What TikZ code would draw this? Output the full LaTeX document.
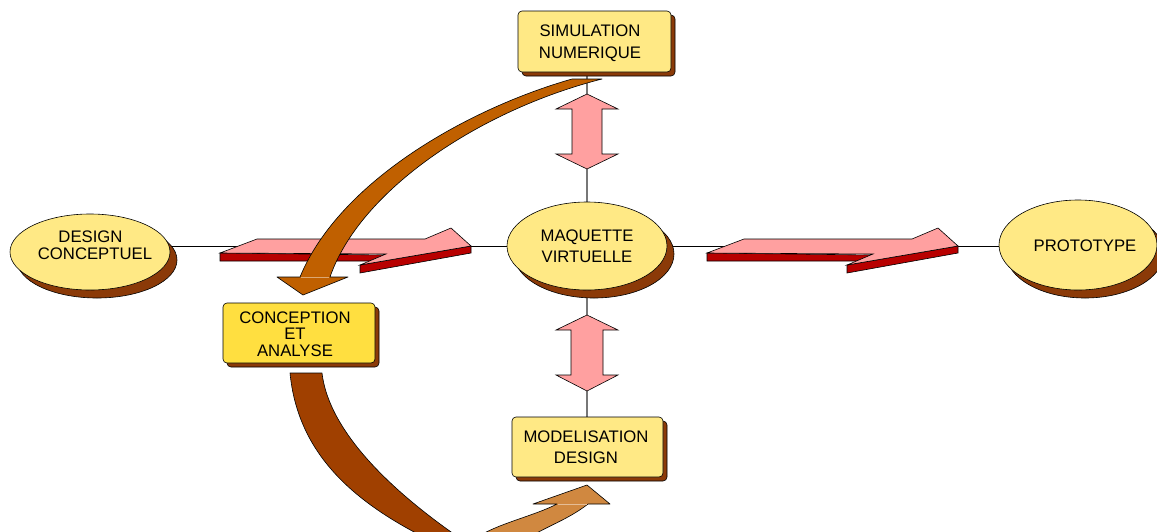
\documentclass[tikz,border=0pt]{standalone}
\usepackage{fontspec}
\setmainfont{Liberation Sans}
\usetikzlibrary{shapes.geometric,shadows,calc}
\pgfdeclarelayer{bg}
\pgfsetlayers{bg,main}
\definecolor{yel}{HTML}{FFE985}
\definecolor{yeltwo}{HTML}{FFDF40}
\definecolor{shb}{HTML}{8B3A08}
\definecolor{pinkarr}{HTML}{FFA0A0}
\definecolor{redarr}{HTML}{B80000}
\definecolor{brownA}{HTML}{C06000}
\definecolor{brownB}{HTML}{A04000}
\definecolor{brownC}{HTML}{D08840}
\definecolor{vgrey}{HTML}{777777}
\newcommand\flatarr[1]{%
  \begin{scope}[xshift=#1]
    \filldraw[redpart] (220,253) -- (386,255) -- (370,261) -- (220,261) -- cycle;
    \filldraw[redpart] (360,265) -- (471,246) -- (471,253) -- (360,273) -- cycle;
    \filldraw[pinkpart] (220,253) -- (257,239) -- (425,239) -- (451,228) -- (471,246) -- (360,265) -- (386,254) -- cycle;
  \end{scope}}
\begin{document}
\begin{tikzpicture}[x=1pt,y=-1pt,
  ovalshad/.style={drop shadow={shadow xshift=7pt,shadow yshift=-8pt,fill=shb,draw=black,line width=0.6pt,opacity=1}},
  boxshad/.style={drop shadow={shadow xshift=4pt,shadow yshift=-4pt,fill=shb,draw=black,line width=0.6pt,opacity=1}},
  oval/.style={ellipse, draw=black, line width=0.6pt, fill=yel, inner sep=0pt, ovalshad},
  boxn/.style={rectangle, rounded corners=4pt, draw=black, line width=0.6pt, fill=yel, inner sep=0pt, boxshad},
  txt/.style={align=center, inner sep=0pt, text=black, font=\fontsize{16.7}{21}\selectfont},
  hline/.style={draw=black, line width=0.8pt},
  vline/.style={draw=vgrey, line width=1.3pt},
  dbl/.style={fill=pinkarr, draw=black, line width=0.6pt},
  redpart/.style={fill=redarr, draw=black, line width=0.6pt},
  pinkpart/.style={fill=pinkarr, draw=black, line width=0.6pt},
  curved/.style={draw=black, line width=0.6pt, line join=round}]
\useasboundingbox (0,0) rectangle (1157,531);
\clip (0,0) rectangle (1157,531);

% nodes
\node[oval, minimum width=160pt, minimum height=76pt] (design) at (90,252) {};
\node[txt, font=\fontsize{16.7}{17}\selectfont] (designt) at (95,245) {DESIGN\hspace*{9pt}\\CONCEPTUEL};
\node[oval, minimum width=160pt, minimum height=88pt] (maquette) at (587,246) {};
\node[txt] (maquettet) at (587,246) {MAQUETTE\\VIRTUELLE};
\node[oval, minimum width=158pt, minimum height=90pt] (prototype) at (1078,245) {};
\node[txt] (prototypet) at (1085,246) {PROTOTYPE};
\node[boxn, minimum width=153pt, minimum height=61pt] (simulation) at (594.5,41.5) {};
\node[txt, font=\fontsize{16.7}{22}\selectfont] (simulationt) at (590,43) {SIMULATION\\NUMERIQUE};
\node[boxn, fill=yeltwo, minimum width=152pt, minimum height=60pt] (conception) at (299,333) {};
\node[txt, font=\fontsize{16.7}{16.5}\selectfont] (conceptiont) at (295,334) {CONCEPTION\\ET\\ANALYSE};
\node[boxn, minimum width=151pt, minimum height=60pt] (modelisation) at (587.5,447) {};
\node[txt] (modelisationt) at (586,447) {MODELISATION\\DESIGN};

% connectors
\begin{pgfonlayer}{bg}
\draw[hline] (maquette.west) -- (maquette.west -| design.east);
\draw[hline] (maquette.east) -- (maquette.east -| prototype.west);
\draw[vline] (maquette.north) -- (maquette.north |- simulation.south);
\draw[vline] (maquette.south) -- (maquette.south |- modelisation.north);
\end{pgfonlayer}

% vertical double arrows
\filldraw[dbl] (587,94) -- (618,109) -- (602,109) -- (602,154) -- (618,154) -- (587,169) -- (556,154) -- (572,154) -- (572,109) -- (556,109) -- cycle;
\filldraw[dbl] (587,315) -- (618,330) -- (603,330) -- (603,375) -- (618,375) -- (587,391) -- (556,375) -- (571,375) -- (571,330) -- (556,330) -- cycle;

% flat 3D arrows
\flatarr{0pt}
\flatarr{487pt}

% upper curved arrow
\filldraw[curved, fill=brownA] (572,79) .. controls (470,108) and (340,180) .. (300,277)
  -- (277,277) -- (303,295) -- (348,277) -- (330,277)
  .. controls (360,190) and (480,110) .. (602,79) -- cycle;
\draw[brownA!55!white, line width=0.6pt] (301,277) -- (329,277);

% lower curved arrow (dark back part)
\filldraw[curved, fill=brownB] (290,373) .. controls (298,455) and (355,505) .. (440,545)
  -- (470,545) .. controls (410,505) and (330,440) .. (322,373) -- cycle;
% lower curved arrow (light front part)
\filldraw[curved, fill=brownC] (468,545) .. controls (485,526) and (530,518) .. (557,504)
  -- (533,504) -- (587,485) -- (610,504) -- (588,504)
  .. controls (565,522) and (540,528) .. (518,545) -- cycle;
\draw[brownC!55!white, line width=0.6pt] (558,504) -- (587,504);
\end{tikzpicture}
\end{document}
